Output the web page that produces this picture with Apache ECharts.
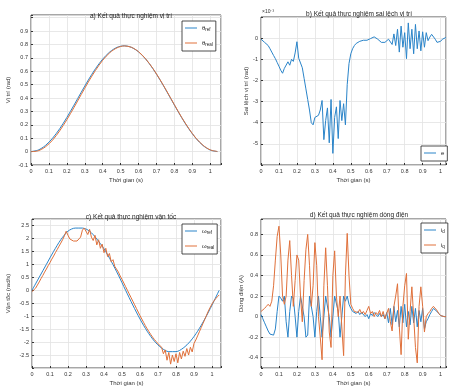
<!DOCTYPE html>
<html>
<head>
<meta charset="utf-8">
<script src="https://cdn.jsdelivr.net/npm/echarts@6/dist/echarts.min.js"></script>
<style>
html, body { margin: 0; padding: 0; background: #fff; }
#main { width: 451px; height: 392px; }
</style>
</head>
<body>
<div id="main"></div>
<script>
// thoi gian lay mau
var tCoarse = [0, 0.04, 0.08, 0.12, 0.16, 0.2, 0.24, 0.28, 0.32, 0.36, 0.4, 0.44, 0.48, 0.52,
	0.56, 0.6, 0.64, 0.68, 0.72, 0.76, 0.8, 0.84, 0.88, 0.92, 0.96, 1.0, 1.04];
var tFine = [];
for (var i = 0; i <= 104; i++) tFine.push(+(i * 0.01).toFixed(2));

// a) vi tri
var posRef = [0, 0.0115, 0.0452, 0.0993, 0.1706, 0.2549, 0.3474, 0.4426, 0.5351, 0.6194, 0.6907, 0.7448, 0.7785, 0.79,
	0.7785, 0.7448, 0.6907, 0.6194, 0.5351, 0.4426, 0.3474, 0.2549, 0.1706, 0.0993, 0.0452, 0.0115, 0];
var posReal = [0, 0.006, 0.035, 0.085, 0.155, 0.238, 0.330, 0.426, 0.520, 0.607, 0.682, 0.739, 0.775, 0.789,
	0.779, 0.746, 0.692, 0.621, 0.537, 0.445, 0.350, 0.257, 0.173, 0.101, 0.047, 0.013, 0.001];

// b) sai lech vi tri (x10^-3)
var posErr = [-0.05, -0.12, -0.2, -0.28, -0.35, -0.5, -0.66, -0.82, -0.97, -1.15,
	-1.33, -1.52, -1.66, -1.43, -1.35, -1.12, -1.28, -1.0, -1.1, -0.7,
	-0.17, -0.95, -1.0, -1.4, -1.9, -2.4, -2.9, -3.4, -4.0, -4.1,
	-3.75, -3.7, -3.65, -3.4, -2.95, -4.8, -3.9, -3.3, -4.95, -2.9,
	-5.45, -3.75, -3.25, -4.75, -2.95, -3.9, -3.1, -4.1, -2.2, -1.2,
	-0.74, -0.5, -0.35, -0.25, -0.2, -0.15, -0.12, -0.1, -0.08, -0.1,
	-0.05, -0.02, 0.02, 0.06, 0.08, -0.05, -0.12, -0.2, -0.28, -0.2,
	-0.12, -0.05, 0.03, -0.3, 0.2, -0.35, 0.42, -0.66, 0.57, -0.43,
	0.26, -0.97, 0.72, -0.5, 0.42, -0.74, 0.65, -0.5, 0.34, -0.6,
	0.3, -0.43, 0.26, -0.12, 0.05, 0.18, 0.1, -0.05, -0.2, -0.28,
	-0.15, -0.05, 0.0, 0.03];

// c) van toc
var velRef = [0, 0.5, 1.0, 1.5, 1.95, 2.28, 2.4, 2.4, 2.28, 1.98, 1.6, 1.12, 0.58, 0,
	-0.571, -1.109, -1.582, -1.964, -2.231, -2.369, -2.369, -2.231, -1.964, -1.582, -1.109, -0.571, 0];
var velReal = [-0.05, 0.0, 0.08, 0.2, 0.32, 0.45, 0.57, 0.7, 0.82, 0.95,
	1.07, 1.2, 1.32, 1.45, 1.57, 1.7, 1.82, 1.95, 2.1, 2.28,
	2.12, 1.98, 1.92, 1.90, 1.88, 1.90, 1.95, 2.05, 2.32, 2.40,
	2.38, 2.15, 2.35, 2.05, 1.92, 2.12, 1.75, 1.95, 1.62, 1.78,
	1.45, 1.62, 1.30, 1.42, 1.10, 1.18, 0.92, 0.85, 0.70, 0.55,
	0.42, 0.28, 0.14, 0.0, -0.14, -0.28, -0.42, -0.56, -0.70, -0.84,
	-0.98, -1.11, -1.24, -1.37, -1.49, -1.60, -1.71, -1.81, -1.90, -1.98,
	-2.06, -2.13, -2.20, -2.45, -2.30, -2.70, -2.40, -2.85, -2.50, -2.75,
	-2.45, -2.80, -2.40, -2.65, -2.35, -2.55, -2.25, -2.50, -2.20, -2.38,
	-2.05, -1.92, -1.76, -1.60, -1.44, -1.28, -1.12, -0.96, -0.80, -0.66,
	-0.53, -0.42, -0.33, -0.25, -0.18];

// d) dong dien
var curD = [0.02, -0.02, -0.06, -0.1, -0.14, -0.17, -0.18, -0.18, -0.12, 0.05,
	0.2, 0.18, 0.15, 0.2, -0.05, -0.2, 0.05, 0.2, 0.18, 0.0,
	-0.2, 0.05, 0.2, 0.2, 0.0, -0.2, -0.18, 0.2, 0.2, 0.0,
	-0.2, 0.05, 0.2, 0.0, -0.2, 0.0, 0.2, 0.2, 0.0, -0.2,
	-0.2, 0.2, 0.2, 0.05, -0.2, -0.2, 0.2, 0.15, 0.2, 0.12,
	0.08, 0.05, 0.04, 0.03, 0.05, 0.02, 0.04, 0.03, 0.0, 0.02,
	-0.02, 0.03, 0.01, 0.04, 0.02, 0.0, 0.03, 0.0, 0.02, -0.02,
	0.04, -0.06, 0.08, -0.08, 0.1, -0.05, 0.06, -0.1, 0.1, -0.06,
	0.12, -0.1, 0.05, -0.08, 0.1, -0.06, 0.08, -0.1, 0.06, -0.05,
	0.08, -0.12, -0.05, -0.02, 0.02, 0.05, 0.08, 0.07, 0.05, 0.03,
	0.01, 0.0, 0.0, 0.0];
var curQ = [0.05, 0.06, 0.08, 0.1, 0.12, 0.1, 0.15, 0.3, 0.55, 0.78,
	0.88, 0.6, 0.2, 0.12, 0.2, 0.55, 0.74, 0.4, 0.1, 0.35,
	0.6, 0.55, 0.2, -0.05, 0.35, 0.65, 0.8, 0.5, 0.1, 0.3,
	0.72, 0.5, 0.0, -0.2, -0.42, 0.3, 0.67, 0.3, -0.15, -0.3,
	0.4, 0.64, 0.2, 0.0, 0.2, -0.1, -0.38, 0.4, 0.81, 0.4,
	0.12, 0.08, 0.05, 0.06, 0.04, 0.07, 0.03, 0.05, 0.02, 0.06,
	0.1, 0.03, 0.05, 0.0, 0.04, 0.02, 0.06, 0.0, 0.05, -0.02,
	0.03, 0.08, -0.05, -0.14, 0.1, 0.2, 0.32, -0.1, -0.37, 0.1,
	0.3, 0.42, -0.22, 0.05, 0.29, 0.0, -0.3, -0.45, 0.1, 0.29,
	0.1, -0.15, 0.0, 0.03, 0.05, 0.08, 0.1, 0.1, 0.06, 0.03,
	0.01, 0.0, 0.0, 0.0];

var xTicks = [0, 0.1, 0.2, 0.3, 0.4, 0.5, 0.6, 0.7, 0.8, 0.9, 1];

var BLUE = '#2a84c9';
var ORANGE = '#e0703a';
var FONT = 'Liberation Sans';

function pairs(ts, vs) {
	return vs.map(function (v, i) { return [ts[i], v]; });
}

function xAxis(idx, max) {
	return {
		type: 'value', gridIndex: idx, min: 0, max: max, interval: 0.1,
		name: 'Thời gian (s)', nameLocation: 'middle', nameGap: 12,
		nameTextStyle: { fontSize: 6, color: '#333', fontFamily: FONT },
		axisLine: { show: false, onZero: false },
		axisTick: { inside: true, length: 2, lineStyle: { color: '#333' } },
		axisLabel: {
			fontSize: 5.5, color: '#333', margin: 3, fontFamily: FONT,
			formatter: function (v) {
				var r = Math.round(v * 10) / 10;
				return xTicks.indexOf(r) >= 0 && Math.abs(v - r) < 1e-6 ? String(r) : '';
			}
		},
		splitLine: { show: true, lineStyle: { color: '#e2e2e2', width: 0.8 } }
	};
}

function yAxis(idx, o) {
	var ax = {
		type: 'value', gridIndex: idx, min: o.min, max: o.max,
		name: o.name, nameLocation: 'middle', nameGap: o.gap,
		nameTextStyle: { fontSize: 6, color: '#333', fontFamily: FONT },
		axisLine: { show: false, onZero: false },
		axisTick: { inside: true, length: 2, lineStyle: { color: '#333' } },
		axisLabel: {
			fontSize: 5.5, color: '#333', margin: 3, fontFamily: FONT,
			formatter: function (v) {
				if (o.hide(v)) return '';
				return String(Math.round(v * 100) / 100);
			}
		},
		splitLine: { show: true, lineStyle: { color: '#e2e2e2', width: 0.8 } }
	};
	if (o.interval) ax.interval = o.interval;
	if (o.splitNumber) ax.splitNumber = o.splitNumber;
	return ax;
}

function legendOf(names, left, top) {
	return {
		data: names, orient: 'vertical', left: left, top: top,
		icon: 'rect', itemWidth: 12, itemHeight: 1, itemGap: 8, padding: [4, 3, 4, 3],
		borderColor: '#222', borderWidth: 0.8, backgroundColor: '#fff',
		formatter: function (n) {
			return '{m|' + n.charAt(0) + '}{s|' + n.slice(1) + '}';
		},
		textStyle: {
			fontFamily: FONT, color: '#222',
			rich: {
				m: { fontSize: 6, fontFamily: FONT, color: '#222' },
				s: { fontSize: 4.5, fontFamily: FONT, color: '#222', verticalAlign: 'bottom', padding: [3, 0, 0, 0] }
			}
		}
	};
}

function line(name, color, data, xi, smooth) {
	return {
		name: name, type: 'line', xAxisIndex: xi, yAxisIndex: xi,
		data: data, symbol: 'none', smooth: smooth ? 0.3 : false,
		lineStyle: { color: color, width: 1 }, itemStyle: { color: color },
		animation: false
	};
}

var titleStyle = { fontSize: 6.5, fontWeight: 'normal', color: '#222', fontFamily: FONT };

var myChart = echarts.init(document.getElementById('main'));

var option = {
	backgroundColor: '#fff',
	animation: false,
	title: [
		{ text: 'a) Kết quả thực nghiệm vị trí', left: 126, top: 8, textAlign: 'center', textStyle: titleStyle },
		{ text: 'b) Kết quả thực nghiệm sai lệch vị trí', left: 354, top: 6, textAlign: 'center', textStyle: titleStyle },
		{ text: 'c) Kết quả thực nghiệm vận tốc', left: 126, top: 209, textAlign: 'center', textStyle: titleStyle },
		{ text: 'd) Kết quả thực nghiệm dòng điện', left: 354, top: 207, textAlign: 'center', textStyle: titleStyle }
	],
	grid: [
		{ left: 31, top: 15, width: 190, height: 150, show: true, borderColor: '#222', borderWidth: 0.8, backgroundColor: '#fff' },
		{ left: 261, top: 17, width: 185, height: 148, show: true, borderColor: '#222', borderWidth: 0.8, backgroundColor: '#fff' },
		{ left: 32, top: 219, width: 189, height: 149, show: true, borderColor: '#222', borderWidth: 0.8, backgroundColor: '#fff' },
		{ left: 261, top: 219, width: 185, height: 149, show: true, borderColor: '#222', borderWidth: 0.8, backgroundColor: '#fff' }
	],
	xAxis: [xAxis(0, 1.06), xAxis(1, 1.03), xAxis(2, 1.05), xAxis(3, 1.03)],
	yAxis: [
		yAxis(0, { min: -0.1, max: 1.02, interval: 0.1, name: 'Vị trí (rad)', gap: 20,
			hide: function (v) { return v > 0.95; } }),
		yAxis(1, { min: -6, max: 1, interval: 1, name: 'Sai lệch vị trí (rad)', gap: 9,
			hide: function (v) { return v > 0.5 || v < -5.5; } }),
		yAxis(2, { min: -3, max: 2.75, interval: 0.5, name: 'Vận tốc (rad/s)', gap: 21,
			hide: function (v) { return v > 2.6 || v < -2.9; } }),
		yAxis(3, { min: -0.5, max: 0.95, splitNumber: 7, name: 'Dòng điện (A)', gap: 15,
			hide: function (v) { return v > 0.85 || v < -0.45; } })
	],
	legend: [
		legendOf(['θref', 'θreal'], 182, 21),
		legendOf(['e'], 421, 146),
		legendOf(['ωref', 'ωreal'], 182, 224),
		legendOf(['id', 'iq'], 421, 223)
	],
	graphic: [
		{ type: 'text', left: 262, top: 9, style: { text: '×10⁻³', fontSize: 5, fill: '#333', fontFamily: FONT } }
	],
	series: [
		line('θref', BLUE, pairs(tCoarse, posRef), 0, true),
		line('θreal', ORANGE, pairs(tCoarse, posReal), 0, true),
		line('e', BLUE, pairs(tFine, posErr), 1, false),
		line('ωref', BLUE, pairs(tCoarse, velRef), 2, true),
		line('ωreal', ORANGE, pairs(tFine, velReal), 2, false),
		line('id', BLUE, pairs(tFine, curD), 3, false),
		line('iq', ORANGE, pairs(tFine, curQ), 3, false)
	]
};

myChart.setOption(option);
</script>
</body>
</html>
